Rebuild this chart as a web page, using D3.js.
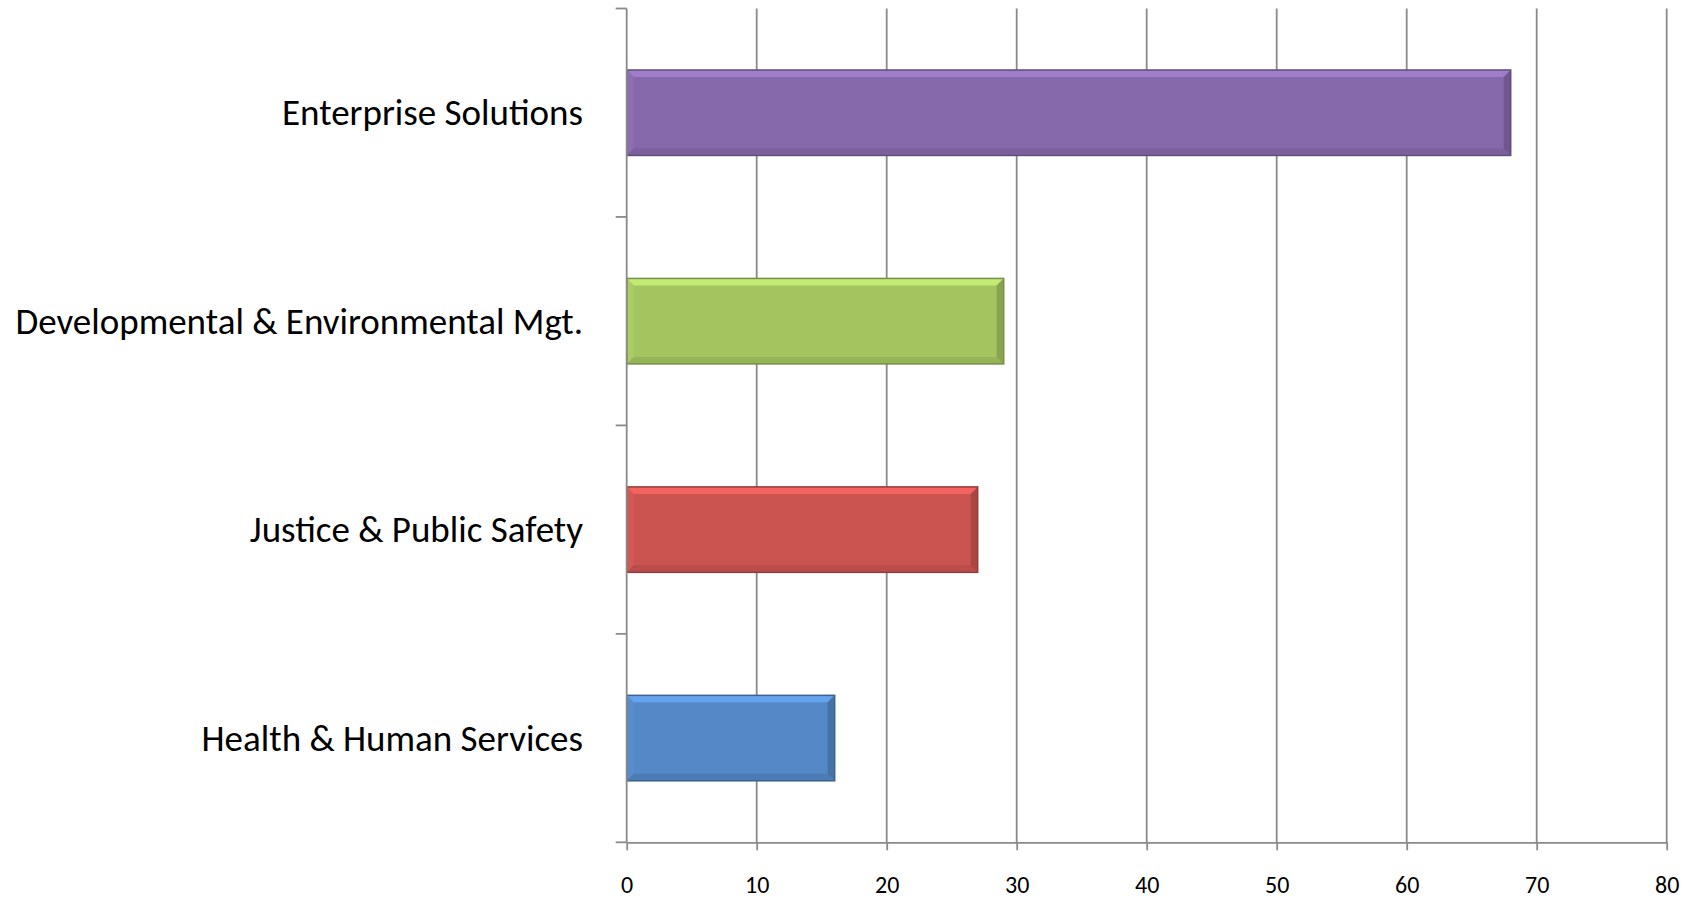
<!DOCTYPE html>
<html>
    <head>
        <meta charset="UTF-8"/>
        <style>
            body { margin: 0; background: #fff; }
            text { font-family: Carlito, Calibri, Lato, sans-serif; fill: #000; }
        </style>
    </head>
    <body>
        <script src="https://d3js.org/d3.v7.min.js" type="text/javascript"></script>
        <script>
            // top to bottom, as drawn
            var categories = ["Enterprise Solutions", "Developmental & Environmental Mgt.", "Justice & Public Safety", "Health & Human Services"];
            var values = [68, 29, 27, 16];
            var barColors = ["#8669aa", "#a3c45f", "#cb5451", "#5488c6"];
            var xTicks = [0, 10, 20, 30, 40, 50, 60, 70, 80];

            let width = 1694;
            let height = 898;
            let plotLeft = 626.7, plotRight = 1666.7, plotTop = 8.5, plotBottom = 842.3;

            let svg = d3.select("body")
                .append("svg")
                .attr("width", width)
                .attr("height", height);

            let xScale = d3.scaleLinear()
                .domain([0, 80])
                .range([plotLeft, plotRight]);
            let yScale = d3.scaleBand()
                .domain(categories)
                .range([plotTop, plotBottom])
                .paddingInner(0.59)
                .paddingOuter(0.295);

            // vertical gridlines
            svg.append("g").selectAll("line")
                .data(xTicks.slice(1))
                .enter()
                .append("line")
                .attr("x1", d => xScale(d)).attr("x2", d => xScale(d))
                .attr("y1", plotTop).attr("y2", plotBottom)
                .attr("stroke", "#8a8a8a")
                .attr("stroke-width", 1.8);

            // bars with bevel
            let step = yScale.step();
            let bw = yScale.bandwidth();
            let bev = 7;
            let bars = svg.append("g").selectAll("g")
                .data(categories)
                .enter()
                .append("g");

            function shade(c, k) {
                let col = d3.color(c);
                return k > 0 ? col.brighter(k).formatHex() : col.darker(-k).formatHex();
            }

            bars.each(function(d, i) {
                let g = d3.select(this);
                let x0 = xScale(0), x1 = xScale(values[i]);
                let y0 = yScale(d), y1 = yScale(d) + bw;
                let c = barColors[i];
                g.append("rect")
                    .attr("x", x0).attr("y", y0)
                    .attr("width", x1 - x0).attr("height", bw)
                    .attr("fill", c);
                // top bevel
                g.append("polygon")
                    .attr("points", [[x0, y0], [x1, y0], [x1 - bev, y0 + bev], [x0 + bev, y0 + bev]].join(" "))
                    .attr("fill", shade(c, 0.5));
                // left bevel
                g.append("polygon")
                    .attr("points", [[x0, y0], [x0 + bev, y0 + bev], [x0 + bev, y1 - bev], [x0, y1]].join(" "))
                    .attr("fill", shade(c, 0.12));
                // bottom bevel
                g.append("polygon")
                    .attr("points", [[x0, y1], [x0 + bev, y1 - bev], [x1 - bev, y1 - bev], [x1, y1]].join(" "))
                    .attr("fill", shade(c, -0.25));
                // right bevel
                g.append("polygon")
                    .attr("points", [[x1, y0], [x1 - bev, y0 + bev], [x1 - bev, y1 - bev], [x1, y1]].join(" "))
                    .attr("fill", shade(c, -0.5));
                g.append("rect")
                    .attr("x", x0).attr("y", y0)
                    .attr("width", x1 - x0).attr("height", bw)
                    .attr("fill", "none")
                    .attr("stroke", shade(c, -0.9))
                    .attr("stroke-width", 1.5);
            });

            // y axis line and ticks at band boundaries
            svg.append("line")
                .attr("x1", plotLeft).attr("x2", plotLeft)
                .attr("y1", plotTop).attr("y2", plotBottom)
                .attr("stroke", "#8a8a8a").attr("stroke-width", 1.8);
            let bounds = categories.map(c => yScale(c) - yScale.paddingInner() * step / 2).concat([plotBottom]);
            svg.append("g").selectAll("line")
                .data(bounds)
                .enter()
                .append("line")
                .attr("x1", plotLeft - 11).attr("x2", plotLeft)
                .attr("y1", d => d).attr("y2", d => d)
                .attr("stroke", "#8a8a8a").attr("stroke-width", 1.8);

            // x axis
            let gxAxis = svg.append("g")
                .attr("transform", "translate(0," + plotBottom + ")")
                .call(d3.axisBottom(xScale).tickValues(xTicks).tickSizeInner(8).tickSizeOuter(0));
            gxAxis.attr("font-size", 24).attr("font-family", null);
            gxAxis.select(".domain").attr("stroke", "#8a8a8a").attr("stroke-width", 1.8);
            gxAxis.selectAll(".tick line").attr("stroke", "#8a8a8a").attr("stroke-width", 1.8);
            gxAxis.selectAll("text")
                .attr("font-size", 24)
                .attr("fill", "#000")
                .attr("y", 893 - plotBottom)
                .attr("dy", null);

            // category labels
            svg.append("g").selectAll("text")
                .data(categories)
                .enter()
                .append("text")
                .attr("x", 583)
                .attr("y", d => yScale(d) + bw / 2 + 12.5)
                .attr("text-anchor", "end")
                .attr("font-size", 37)
                .text(d => d);
        </script>
    </body>
</html>
